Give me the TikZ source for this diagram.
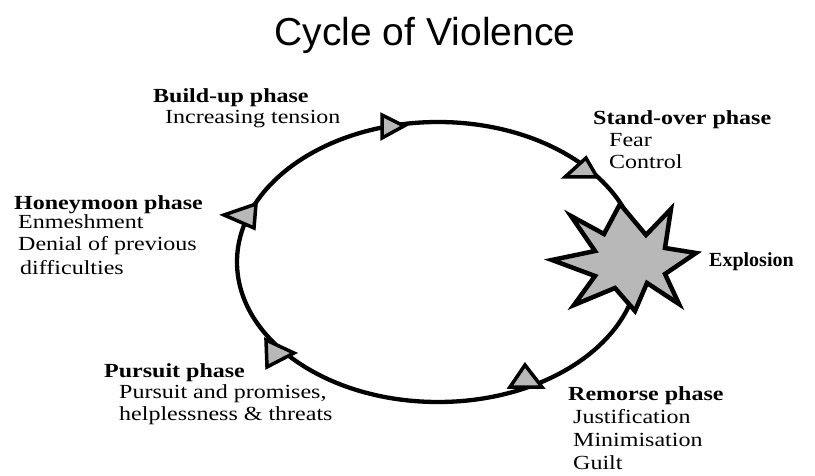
\documentclass[tikz,border=0pt]{standalone}
\usepackage{fontspec}
\setmainfont{Liberation Serif}[FakeStretch=1.2]
\newfontfamily\plainserif{Liberation Serif}
\newfontfamily\titlefont{Liberation Sans}
\begin{document}
\begin{tikzpicture}[x=1pt,y=-1pt,
  hd/.style={anchor=base west, inner sep=0pt, font=\fontsize{20}{22}\selectfont\bfseries},
  tx/.style={anchor=base west, inner sep=0pt, font=\fontsize{20}{22}\selectfont},
  loopline/.style={line width=4.3pt},
  tri/.style={draw, line width=3.5pt, fill=black!28, line join=miter},
  burst/.style={draw, line width=4.5pt, fill=black!28, line join=miter}]
\useasboundingbox (0,0) rectangle (815,476);
\node[anchor=base, inner sep=0pt, font=\titlefont\fontsize{39}{40}\selectfont] (title) at (425,46) {Cycle of Violence};
% cycle
\draw[loopline] (438,262) ellipse [x radius=201pt, y radius=140pt];
% arrowheads
\draw[tri] (382,115) -- (382,138) -- (404,126) -- cycle;
\draw[tri] (565,177) -- (597,177) -- (586,158) -- cycle;
\draw[tri] (510,387) -- (542,387) -- (525,365) -- cycle;
\draw[tri] (266,340) -- (267,367) -- (294,353) -- cycle;
\draw[tri] (224,215) -- (256,204) -- (254,228) -- cycle;
% explosion
\draw[burst] (620,204) -- (646,235) -- (671,209) -- (665,248) -- (696,253)
  -- (665,274) -- (679,304) -- (647,283) -- (635,311) -- (615,288)
  -- (574,305) -- (595,276) -- (552,260) -- (595,251) -- (571,216)
  -- (604,234) -- cycle;
% labels
\node[hd] (bu) at (153,103) {Build-up phase};
\node[tx] (bu1) at (165,124) {Increasing tension};
\node[hd] (so) at (593,125) {Stand-over phase};
\node[tx] (so1) at (609,147) {Fear};
\node[tx] (so2) at (609,169) {Control};
\node[hd] (hm) at (14,210) {Honeymoon phase};
\node[tx] (hm1) at (18,229) {Enmeshment};
\node[tx] (hm2) at (18,251) {Denial of previous};
\node[tx] (hm3) at (20,274) {difficulties};
\node[anchor=base west, inner sep=0pt, font=\plainserif\fontsize{20}{22}\selectfont\bfseries] (ex) at (709,267) {Explosion};
\node[hd] (pu) at (104,377) {Pursuit phase};
\node[tx] (pu1) at (119,398) {Pursuit and promises,};
\node[tx] (pu2) at (119,420) {helplessness \& threats};
\node[hd] (re) at (568,400) {Remorse phase};
\node[tx] (re1) at (573,423) {Justification};
\node[tx] (re2) at (573,446) {Minimisation};
\node[tx] (re3) at (573,469) {Guilt};
\end{tikzpicture}
\end{document}
